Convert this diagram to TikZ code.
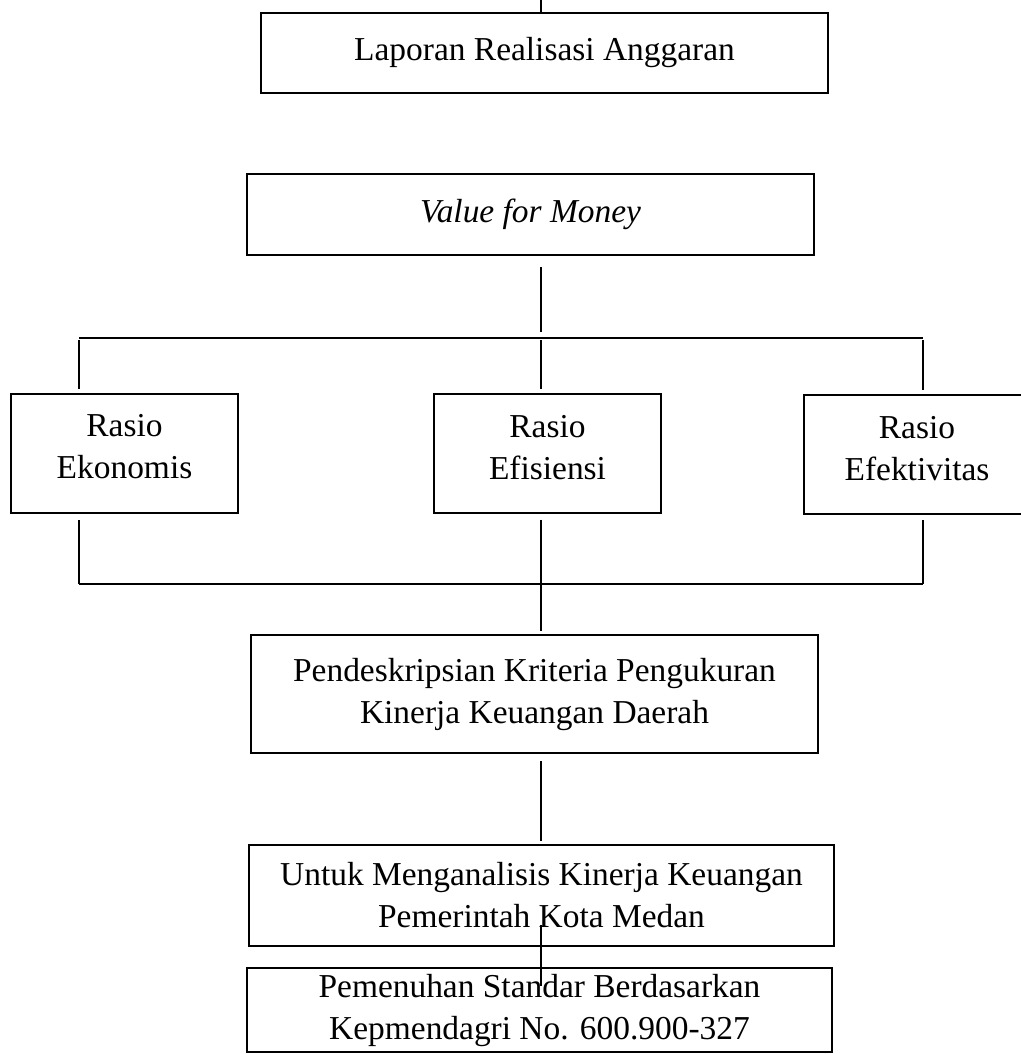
\documentclass[tikz,border=0pt]{standalone}
\usepackage{fontspec}
\setmainfont{Liberation Serif}
\usetikzlibrary{positioning}
\tikzset{
  boxnode/.style = {draw=black, line width=0.7pt, align=center, inner sep=0pt,
    font=\fontsize{11.7}{14.7}\selectfont},
  rbox/.style 2 args = {boxnode, minimum width=#1*0.35pt,
    minimum height=#2*0.35pt},
  ratio/.style = {rbox={227}{119}, text depth=4.5pt},
  ln/.style = {draw=black, line width=0.55pt}
}

\begin{document}
\begin{tikzpicture}[x=0.35pt, y=-0.35pt]
\useasboundingbox (0,0) rectangle (1021,1054);
\node [rbox={567}{80}] (lap) at (544.5,53) {Laporan Realisasi Anggaran};
\node [rbox={567}{81}] (vfm) at (530.5,214.5) {\textit{Value for Money}};
\node [ratio] (ekon) at (124.5,453) {Rasio\\Ekonomis};
\node [ratio] (efis) at (547.5,453.5) {Rasio\\Efisiensi};
\node [ratio] (efek) at (917,454.5) {Rasio\\Efektivitas};
\node [rbox={567}{118}] (pend) at (534.5,694)
  {Pendeskripsian Kriteria Pengukuran\\Kinerja Keuangan Daerah};
\node [rbox={585}{101}] (untuk) at (541.5,895.5)
  {Untuk Menganalisis Kinerja Keuangan\\Pemerintah Kota Medan};
\node [rbox={585}{84}] (pemen) at (539.5,1010)
  {Pemenuhan Standar Berdasarkan\\Kepmendagri No. 600.900-327};

% bus coordinates
\coordinate (top) at (541,0);
\coordinate (busA) at (79,338);
\coordinate (busC) at (541,338);
\coordinate (busB) at (923,338);
\coordinate (botA) at (79,584);
\coordinate (botC) at (541,584);
\coordinate (botB) at (923,584);

\draw [ln] (top) -- (top |- lap.north);
\draw [ln, shorten <=3.8pt, shorten >=2pt] (vfm.south -| busC) -- (busC);
\draw [ln] (busA) -- (busB);
\draw [ln, shorten <=0.7pt, shorten >=1.4pt] (busA) -- (busA |- ekon.north);
\draw [ln, shorten <=0.7pt, shorten >=1.4pt] (busC) -- (busC |- efis.north);
\draw [ln, shorten <=0.7pt, shorten >=1.4pt] (busB) -- (busB |- efek.north);
\draw [ln] (botA) -- (botB);
\draw [ln, shorten <=2.4pt] (ekon.south -| botA) -- (botA);
\draw [ln, shorten <=2pt] (efis.south -| botC) -- (botC);
\draw [ln, shorten <=1.8pt] (efek.south -| botB) -- (botB);
\draw [ln, shorten >=1pt] (botC) -- (pend.north -| botC);
\draw [ln, shorten <=2.5pt, shorten >=1pt] (pend.south -| botC) -- (untuk.north -| botC);
\draw [ln, shorten <=-7.7pt, shorten >=-6.6pt] (untuk.south -| botC) -- (pemen.north -| botC);
\end{tikzpicture}
\end{document}
